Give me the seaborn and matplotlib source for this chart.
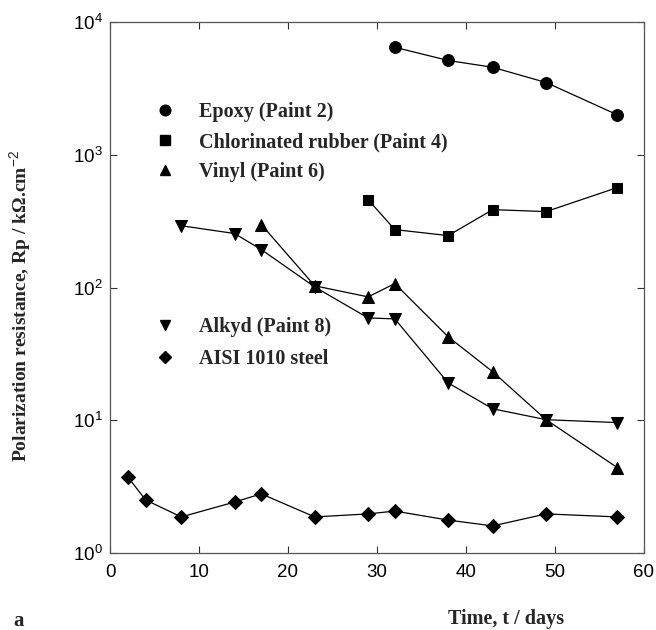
import matplotlib
matplotlib.use("Agg")
import matplotlib.pyplot as plt
from matplotlib.lines import Line2D
import seaborn as sns
import pandas as pd

# ---- data ----
epoxy_t = [32, 38, 43, 49, 57]
epoxy_rp = [6450, 5130, 4560, 3500, 2000]

rubber_t = [29, 32, 38, 43, 49, 57]
rubber_rp = [459, 273, 246, 386, 373, 566]

vinyl_t = [17, 23, 29, 32, 38, 43, 49, 57]
vinyl_rp = [298, 103, 85, 107, 42.5, 23.2, 10.1, 4.4]

alkyd_t = [8, 14, 17, 23, 29, 32, 38, 43, 49, 57]
alkyd_rp = [292, 255, 193, 101, 59, 58, 19.1, 12.2, 10.1, 9.6]

steel_t = [2, 4, 8, 14, 17, 23, 29, 32, 38, 43, 49, 57]
steel_rp = [3.74, 2.51, 1.87, 2.42, 2.79, 1.87, 1.97, 2.07, 1.77, 1.6, 1.97, 1.87]

labels = ["Epoxy (Paint 2)", "Chlorinated rubber (Paint 4)", "Vinyl (Paint 6)",
          "Alkyd (Paint 8)", "AISI 1010 steel"]
xticks = [0, 10, 20, 30, 40, 50, 60]

series = [
    (epoxy_t, epoxy_rp, "o", 8.5),
    (rubber_t, rubber_rp, "s", 7.5),
    (vinyl_t, vinyl_rp, "^", 8.5),
    (alkyd_t, alkyd_rp, "v", 8.5),
    (steel_t, steel_rp, "D", 7.0),
]

sns.set_style("ticks")
plt.rcParams["font.family"] = ["Liberation Sans", "DejaVu Sans"]
plt.rcParams["mathtext.fontset"] = "custom"
plt.rcParams["mathtext.rm"] = "Liberation Sans"
plt.rcParams["mathtext.it"] = "Liberation Sans"
plt.rcParams["mathtext.bf"] = "Liberation Sans"

fig = plt.figure(figsize=(6.56, 6.3), dpi=100)
ax = fig.add_axes([110 / 656, 1 - 553 / 630, 534 / 656, 531 / 630])

for (t, rp, mk, ms), lab in zip(series, labels):
    df = pd.DataFrame({"t": t, "rp": rp})
    sns.lineplot(data=df, x="t", y="rp", marker=mk, markersize=ms, color="black",
                 markeredgecolor="black", linewidth=0.9, ax=ax, legend=False)

ax.set_yscale("log")
ax.set_ylim(1, 1e4)
ax.set_xlim(0, 60)
ax.set_xticks(xticks)
ax.minorticks_off()
ax.tick_params(direction="in", top=True, right=True, length=5, width=0.8,
               labelsize=13.5, colors="#333333", labelcolor="black")
ax.tick_params(axis="x", pad=8)
ax.tick_params(axis="y", pad=5)
for s in ax.spines.values():
    s.set_color("#555555")
    s.set_linewidth(0.9)

ax.set_xlabel("")
ax.set_ylabel("")

serif = ["Liberation Serif", "DejaVu Serif"]
fig.text(506 / 656, 1 - 619 / 630, "Time, t / days", ha="center", va="center",
         fontsize=14.5, fontweight="bold", family=serif)
fig.text(20 / 656, 1 - 306 / 630, "Polarization resistance, Rp / k\u03a9.cm$^{-2}$",
         ha="center", va="center", rotation=90, fontsize=14, fontweight="bold",
         family=serif)
fig.text(19 / 656, 1 - 626 / 630, "a", ha="center", va="baseline",
         fontsize=15, fontweight="bold", family=serif)

handles = [Line2D([], [], linestyle="none", marker=mk, markersize=ms * 0.9,
                  color="black") for (_, _, mk, ms) in series]
leg_font = {"family": serif, "weight": "bold", "size": 14.5}
leg1 = ax.legend(handles[:3], labels[:3], loc="upper left",
                 bbox_to_anchor=((142 - 110) / 534, (553 - 94) / 531),
                 frameon=False, prop=leg_font, handletextpad=0.95,
                 labelspacing=0.5, handlelength=1.5, borderaxespad=0)
ax.add_artist(leg1)
ax.legend(handles[3:], labels[3:], loc="upper left",
          bbox_to_anchor=((142 - 110) / 534, (553 - 309) / 531),
          frameon=False, prop=leg_font, handletextpad=0.95,
          labelspacing=0.6, handlelength=1.5, borderaxespad=0)

fig.savefig("out.png", dpi=100)
